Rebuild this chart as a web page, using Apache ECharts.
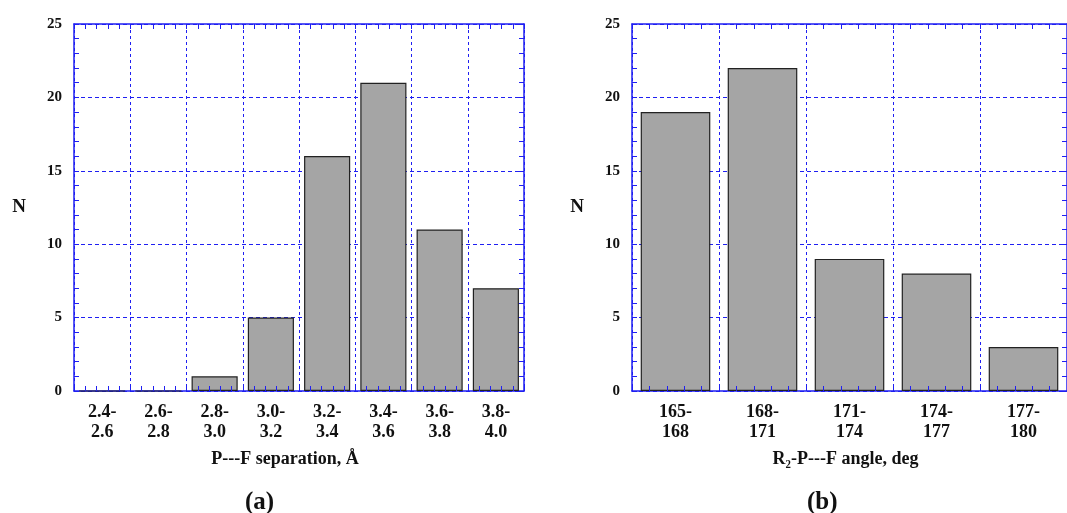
<!DOCTYPE html>
<html>
<head>
<meta charset="utf-8">
<script src="https://cdn.jsdelivr.net/npm/echarts@6/dist/echarts.min.js"></script>
<style>
	html, body { margin: 0; padding: 0; background: #fff; }
	#chart { width: 1067px; height: 513px; }
</style>
</head>
<body>
<div id="chart"></div>
<script>
// data
const sepLabels = ["2.4-\n2.6", "2.6-\n2.8", "2.8-\n3.0", "3.0-\n3.2", "3.2-\n3.4", "3.4-\n3.6", "3.6-\n3.8", "3.8-\n4.0"]
const sepCounts = [0, 0, 1, 5, 16, 21, 11, 7]
const angLabels = ["165-\n168", "168-\n171", "171-\n174", "174-\n177", "177-\n180"]
const angCounts = [19, 22, 9, 8, 3]
const yMax = 25
const yStep = 5

const font = "Liberation Serif"
const blue = "#1f1ff2"
const txt = { fontFamily: font, fontWeight: "bold", color: "#111" }

// extra value axes only used to draw the small inside ticks (and the top frame line)
const tickAxis = (gridIndex, n, position, line) => ({
	type: "value",
	gridIndex: gridIndex,
	position: position,
	min: 0,
	max: n,
	interval: 1,
	z: 5,
	axisLine: { show: line, onZero: false, lineStyle: { color: blue, width: 1.5 } },
	axisTick: { show: true, inside: true, length: 5, lineStyle: { color: blue } },
	minorTick: { show: true, splitNumber: 5, length: 5, lineStyle: { color: blue } },
	axisLabel: { show: false },
	splitLine: { show: false }
})

const catAxis = (gridIndex, cats, name, pad) => ({
	type: "category",
	gridIndex: gridIndex,
	data: cats,
	position: "bottom",
	axisLine: { show: true, onZero: false, lineStyle: { color: blue, width: 1.5 } },
	axisTick: { show: false },
	axisLabel: { interval: 0, margin: 11, fontSize: 18, lineHeight: 20, ...txt },
	splitLine: { show: true, interval: 0, lineStyle: { color: blue, type: [3, 3], width: 1 } },
	name: name,
	nameLocation: "middle",
	nameGap: 59,
	nameTextStyle: { fontSize: 18, padding: pad, ...txt }
})

const valAxis = (gridIndex, position, main) => ({
	type: "value",
	gridIndex: gridIndex,
	position: position,
	min: 0,
	max: yMax,
	interval: yStep,
	z: main ? 0 : 5,
	axisLine: { show: true, onZero: false, lineStyle: { color: blue, width: 1.5 } },
	axisTick: { show: true, inside: true, length: 5, lineStyle: { color: blue } },
	minorTick: { show: true, splitNumber: 5, length: 5, lineStyle: { color: blue } },
	axisLabel: { show: main, margin: 12, fontSize: 15, ...txt },
	splitLine: { show: main, lineStyle: { color: blue, type: [4, 3], width: 1 } },
	name: main ? "N" : "",
	nameLocation: "middle",
	nameRotate: 0,
	nameGap: 48,
	nameTextStyle: { fontSize: 19, ...txt }
})

const barStyle = { color: "#a5a5a5", borderColor: "#222", borderWidth: 1.2 }

const chart = echarts.init(document.getElementById("chart"))
chart.setOption({
	animation: false,
	grid: [
		{ left: 74, top: 24, width: 450, height: 367 },
		{ left: 632, top: 24, width: 440, height: 367 }
	],
	xAxis: [
		catAxis(0, sepLabels, "P---F separation, Å", [0, 28, 0, 0]),
		tickAxis(0, sepLabels.length, "bottom", false),
		tickAxis(0, sepLabels.length, "top", true),
		catAxis(1, angLabels, "R₂-P---F angle, deg", [0, 8, 0, 0]),
		tickAxis(1, angLabels.length, "bottom", false),
		tickAxis(1, angLabels.length, "top", true)
	],
	yAxis: [
		valAxis(0, "left", true),
		valAxis(0, "right", false),
		valAxis(1, "left", true),
		valAxis(1, "right", false)
	],
	graphic: [
		{ type: "text", left: 245, top: 490, style: { text: "(a)", font: "bold 25px 'Liberation Serif'", fill: "#111" } },
		{ type: "text", left: 807, top: 490, style: { text: "(b)", font: "bold 25px 'Liberation Serif'", fill: "#111" } }
	],
	series: [
		{
			type: "bar",
			xAxisIndex: 0,
			yAxisIndex: 0,
			data: sepCounts,
			barCategoryGap: "18%",
			itemStyle: barStyle
		},
		{
			type: "bar",
			xAxisIndex: 3,
			yAxisIndex: 2,
			data: angCounts,
			barCategoryGap: "20%",
			itemStyle: barStyle
		}
	]
})
</script>
</body>
</html>
